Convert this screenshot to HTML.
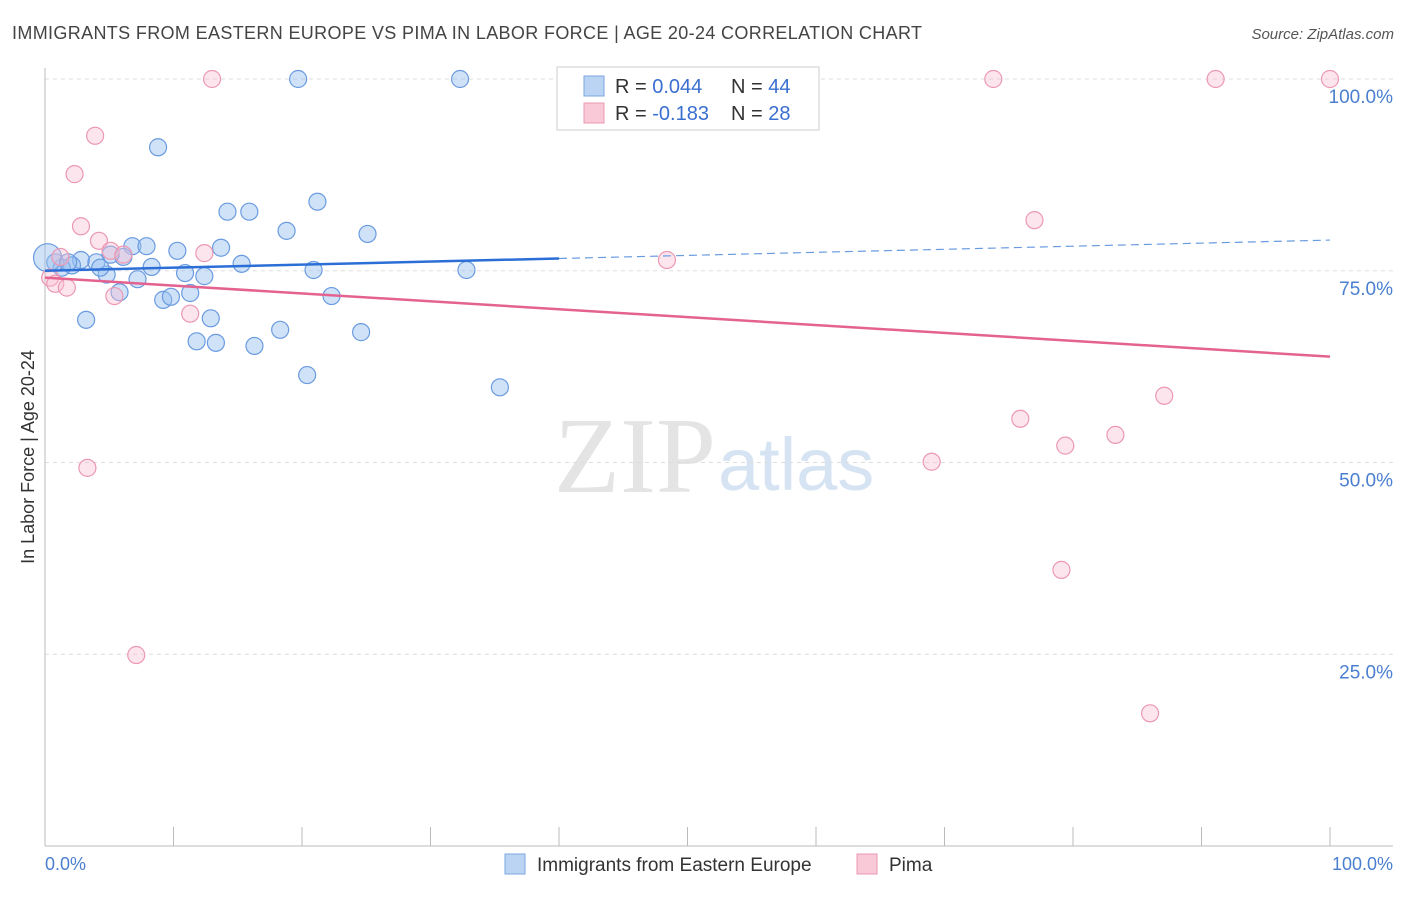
<!DOCTYPE html>
<html><head><meta charset="utf-8"><style>
body{margin:0;background:#fff;font-family:"Liberation Sans",sans-serif;}
</style></head><body>
<svg width="1406" height="892" xmlns="http://www.w3.org/2000/svg" font-family="Liberation Sans, sans-serif">
<text x="12" y="39" font-size="18" fill="#444" textLength="910">IMMIGRANTS FROM EASTERN EUROPE VS PIMA IN LABOR FORCE | AGE 20-24 CORRELATION CHART</text>
<text x="1394" y="39" font-size="15" fill="#555" font-style="italic" text-anchor="end">Source: ZipAtlas.com</text>
<text x="716" y="492" font-size="108" fill="#e4e4e4" font-family="Liberation Serif, serif" text-anchor="end">ZIP</text>
<text x="718" y="490" font-size="74" fill="#d6e3f3">atlas</text>
<g id="grid"></g>
<line x1="45" y1="68" x2="45" y2="846" stroke="#bbb"/>
<line x1="45" y1="846" x2="1393" y2="846" stroke="#bbb"/>
<text transform="translate(34,457) rotate(-90)" font-size="18" fill="#333" text-anchor="middle">In Labor Force | Age 20-24</text>
<text x="45" y="870" font-size="18" fill="#4a7fd0">0.0%</text>
<text x="1393" y="870" font-size="18" fill="#4a7fd0" text-anchor="end">100.0%</text>
<g id="pts"></g>
<g id="trends"></g>
<g>
<rect x="557" y="67" width="262" height="63" fill="#fff" stroke="#ccc"/>
<rect x="584" y="76" width="20" height="20" fill="#bcd4f4" stroke="#7aa6e0"/>
<rect x="584" y="103" width="20" height="20" fill="#f9c9d7" stroke="#ec98b2"/>
<text x="615" y="93" font-size="20" fill="#333">R = <tspan fill="#3a6fd0">0.044</tspan></text>
<text x="731" y="93" font-size="20" fill="#333">N = <tspan fill="#3a6fd0">44</tspan></text>
<text x="615" y="120" font-size="20" fill="#333">R = <tspan fill="#3a6fd0">-0.183</tspan></text>
<text x="731" y="120" font-size="20" fill="#333">N = <tspan fill="#3a6fd0">28</tspan></text>
</g>
<rect x="505" y="854" width="20" height="20" fill="#bcd4f4" stroke="#7aa6e0"/>
<text x="537" y="871" font-size="19" fill="#333">Immigrants from Eastern Europe</text>
<rect x="857" y="854" width="20" height="20" fill="#f9c9d7" stroke="#ec98b2"/>
<text x="889" y="871" font-size="19" fill="#333">Pima</text>
</svg>
<script>
const yTicks=[100,75,50,25];
const yTickLabels=["100.0%","75.0%","50.0%","25.0%"];
const xTicks=[0,10,20,30,40,50,60,70,80,90,100];
const blueX=[19.7,32.3,8.8,14.2,15.9,21.2,18.8,25.1,6.8,7.9,10.3,13.7,15.3,20.9,32.8,10.9,12.4,8.3,6.1,5.1,2.8,4.0,2.1,1.3,0.8,4.8,7.2,5.8,9.2,9.8,11.3,22.3,3.2,12.9,18.3,24.6,11.8,13.3,16.3,20.4,35.4,0.2,1.8,4.3];
const blueY=[100,100,91.1,82.7,82.7,84.0,80.2,79.8,78.2,78.2,77.6,78.0,75.9,75.1,75.1,74.7,74.3,75.5,76.8,77.1,76.4,76.1,75.7,75.4,76.1,74.5,73.9,72.2,71.2,71.6,72.1,71.7,68.6,68.8,67.3,67.0,65.8,65.6,65.2,61.4,59.8,76.7,76.1,75.4];
const pinkX=[13.0,73.8,91.1,100,3.9,2.3,2.8,4.2,5.1,6.1,12.4,77.0,48.4,1.2,0.4,0.8,1.7,5.4,11.3,75.9,87.1,79.4,83.3,69.0,3.3,79.1,7.1,86.0];
const pinkY=[100,100,100,100,92.6,87.6,80.8,78.9,77.6,77.1,77.3,81.6,76.4,76.8,74.1,73.3,72.8,71.7,69.4,55.7,58.7,52.2,53.6,50.1,49.3,36.0,24.9,17.3];
const blueTrend=[75.0,79.0];
const pinkTrend=[74.1,63.8];
const xs=v=>45+v*12.85, ys=v=>846-v*7.67;
const NS="http://www.w3.org/2000/svg";
function mk(t,a,p){const e=document.createElementNS(NS,t);for(const k in a)e.setAttribute(k,a[k]);p.appendChild(e);return e;}
const grid=document.getElementById('grid');
yTicks.forEach((t,i)=>{
 const l=mk('line',{x1:45,x2:1393,y1:ys(t),y2:ys(t),stroke:'#ddd','stroke-dasharray':'4,4'},grid);
 
 
 const tx=mk('text',{x:1393,y:ys(t)+24,'font-size':19,fill:'#4a7fd0','text-anchor':'end'},grid);
 tx.textContent=yTickLabels[i];
 
 
});
xTicks.forEach(t=>{
 const l=mk('line',{x1:xs(t),x2:xs(t),y1:827,y2:846,stroke:'#bbb'},grid);
 
 
});
const pts=document.getElementById('pts');
blueX.forEach((x,i)=>{
 const c=mk('circle',{cx:xs(x),cy:ys(blueY[i]),r:i==41?14:8.5,fill:'rgba(150,190,240,0.45)',stroke:'#6a9be0','stroke-width':1.2},pts);
 
 
});
pinkX.forEach((x,i)=>{
 const c=mk('circle',{cx:xs(x),cy:ys(pinkY[i]),r:8.5,fill:'rgba(248,190,210,0.4)',stroke:'#ec98b2','stroke-width':1.2},pts);
 
 
});
const tr=document.getElementById('trends');
const bAt=v=>blueTrend[0]+(blueTrend[1]-blueTrend[0])*v/100;
let l1=mk('line',{x1:xs(0),y1:ys(bAt(0)),x2:xs(40),y2:ys(bAt(40)),stroke:'#2b6fd6','stroke-width':2.5},tr);


let l2=mk('line',{x1:xs(40),y1:ys(bAt(40)),x2:xs(100),y2:ys(bAt(100)),stroke:'#6a9be0','stroke-width':1.2,'stroke-dasharray':'8,5'},tr);


let l3=mk('line',{x1:xs(0),y1:ys(pinkTrend[0]),x2:xs(100),y2:ys(pinkTrend[1]),stroke:'#e4628f','stroke-width':2.5},tr);


</script>
</body></html>
